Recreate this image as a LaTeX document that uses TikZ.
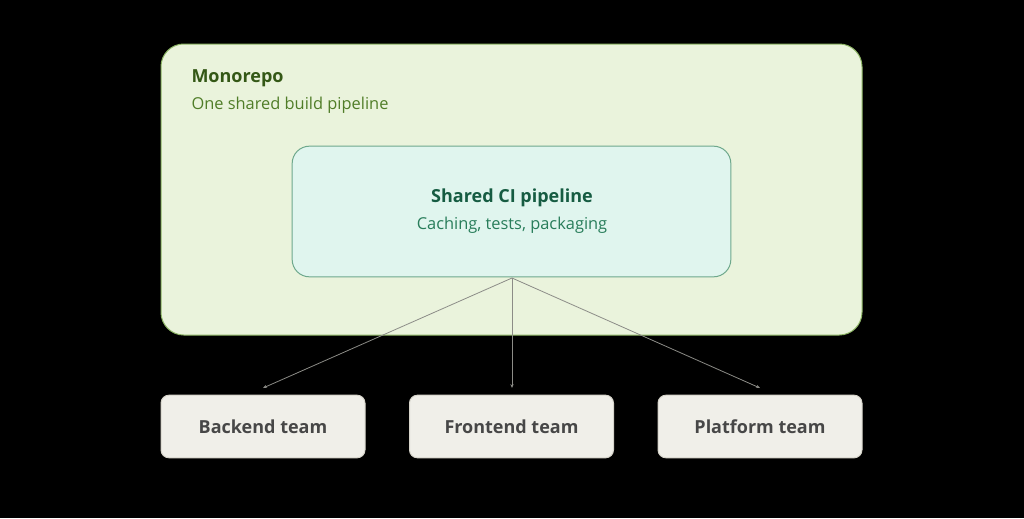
\documentclass[tikz,border=0pt]{standalone}
\usepackage{fontspec}
\setmainfont{Open Sans}
\usetikzlibrary{arrows.meta}
\definecolor{repofill}{RGB}{234,243,220}
\definecolor{repoline}{RGB}{140,180,100}
\definecolor{repotext}{RGB}{52,88,22}
\definecolor{reposub}{RGB}{80,125,40}
\definecolor{cifill}{RGB}{224,245,238}
\definecolor{ciline}{RGB}{110,168,140}
\definecolor{citext}{RGB}{22,92,66}
\definecolor{cisub}{RGB}{40,125,90}
\definecolor{teamfill}{RGB}{240,239,233}
\definecolor{teamline}{RGB}{214,212,202}
\definecolor{linkgray}{RGB}{140,140,135}
\tikzset{
  team/.style={draw=teamline,fill=teamfill,rounded corners=6pt,minimum width=153pt,minimum height=47pt,font=\bfseries\fontsize{13.5}{16}\selectfont,text=black!72},
  link/.style={draw=linkgray,line width=0.6pt,-{Stealth[length=3pt,width=2.5pt]}}
}
\begin{document}
\tikzset{every picture/.style={line width=0.75pt}}

\begin{tikzpicture}[x=0.75pt,y=0.75pt,yscale=-1,xscale=1]
\fill[black] (0,0) rectangle (1024,518);
\useasboundingbox (0,0) rectangle (1024,518);

%Monorepo
\draw [draw=repoline,fill=repofill,rounded corners=17pt] (161,44) rectangle (862,335);
\node (repo) [anchor=west,inner sep=0.75pt,text=repotext,font=\bfseries\fontsize{13.5}{16}\selectfont] at (190,78) {Monorepo};
\node (reposub) [anchor=west,inner sep=0.75pt,text=reposub,font=\fontsize{12.3}{14}\selectfont] at (190,105) {One shared build pipeline};

%CI pipeline
\node (ci) [draw=ciline,fill=cifill,rounded corners=13pt,minimum width=329pt,minimum height=98pt] at (511.5,211.5) {};
\node (cititle) [inner sep=0.75pt,text=citext,font=\bfseries\fontsize{13.5}{16}\selectfont] at (512,198) {Shared CI pipeline};
\node (cisub) [inner sep=0.75pt,text=cisub,font=\fontsize{12.3}{14}\selectfont] at (512,225) {Caching, tests, packaging};

%Teams
\node (backend) [team] at (263,426.5) {Backend team};
\node (frontend) [team] at (511.5,426.5) {Frontend team};
\node (platform) [team] at (760,426.5) {Platform team};

\coordinate (hub) at (512,278);
\coordinate (toback) at (263,388);
\coordinate (tofront) at (512,388);
\coordinate (toplat) at (760,388);
\draw [link] (hub) -- (toback);
\draw [link] (hub) -- (tofront);
\draw [link] (hub) -- (toplat);
\end{tikzpicture}
\end{document}
